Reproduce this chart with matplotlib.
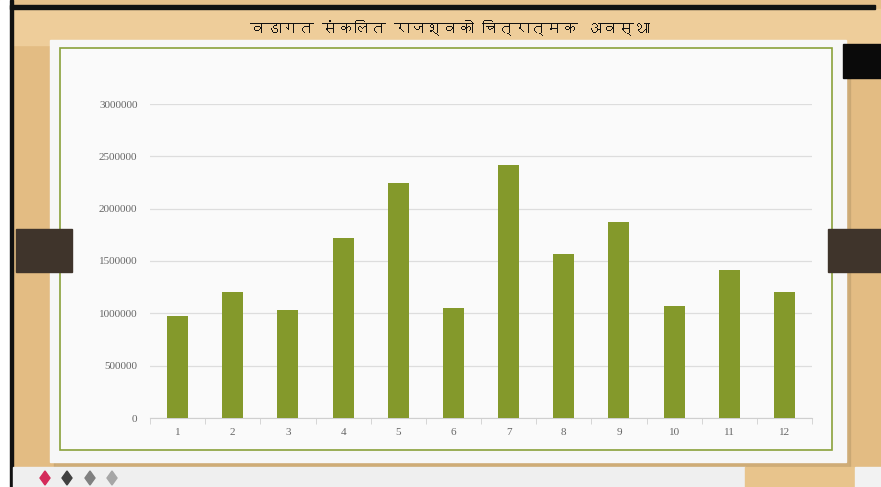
import matplotlib
matplotlib.use("Agg")
import matplotlib.pyplot as plt
from matplotlib import font_manager
from matplotlib.ft2font import FT2Font, LoadFlags
from matplotlib.patches import Rectangle, Polygon

# data
wards = ["1", "2", "3", "4", "5", "6", "7", "8", "9", "10", "11", "12"]
revenue = [975000, 1205000, 1032000, 1720000, 2245000, 1050000,
           2417000, 1567000, 1873000, 1070000, 1414000, 1205000]
y_ticks = [0, 500000, 1000000, 1500000, 2000000, 2500000, 3000000]
title = "वडागत संकलित राजश्वको चित्रात्मक अवस्था"


def pick_devanagari_font():
    # no text shaping in matplotlib, so prefer fonts whose vowel signs /
    # anusvara / virama take little horizontal room
    marks = [0x0902, 0x094D, 0x093F, 0x0947, 0x0940]
    best, best_score = None, None
    for path in font_manager.findSystemFonts():
        try:
            f = FT2Font(path)
            cmap = f.get_charmap()
            if 0x0935 not in cmap:
                continue
            score = 0.0
            for m in marks:
                if m in cmap:
                    g = f.load_char(m, flags=LoadFlags.NO_SCALE)
                    score += g.horiAdvance / f.units_per_EM
            if best_score is None or score < best_score:
                best, best_score = path, score
        except Exception:
            continue
    if best is None:
        return None
    return font_manager.FontProperties(fname=best).get_name()


deva = pick_devanagari_font()
title_family = [deva, "DejaVu Sans"] if deva else ["DejaVu Sans"]

W, H = 881, 487
fig = plt.figure(figsize=(W / 100, H / 100), dpi=100)
fig.patch.set_facecolor("#E6C08A")


def px_rect(x0, y0, x1, y1, **kw):
    # rectangle in pixel coords (top-left origin) -> figure coords
    fig.patches.append(Rectangle((x0 / W, 1 - y1 / H), (x1 - x0) / W, (y1 - y0) / H,
                                 transform=fig.transFigure, **kw))


# outer frame
px_rect(0, 0, 10, H, color="white", zorder=0)
px_rect(10, 0, 13, H, color="#111111", zorder=1)
px_rect(10, 5, 875, 9, color="#111111", zorder=1)
px_rect(13, 9, 881, 45, color="#EECD9A", zorder=0.5)
px_rect(13, 45, 881, 467, color="#E3BC83", zorder=0.4)

# white panel with shadow
px_rect(54, 45, 850, 467, color="#B89A6A", alpha=0.45, zorder=1)
px_rect(50, 40, 846, 462, color="#F7F7F7", zorder=2)
px_rect(60, 48, 832, 450, facecolor="#FAFAFA", edgecolor="#8AA13A", linewidth=1.2, zorder=3)

# side tabs and black block
px_rect(16, 229, 72, 272, color="#3F342B", zorder=4)
px_rect(828, 229, 881, 272, color="#3F342B", zorder=4)
px_rect(843, 44, 881, 78, color="#0A0A0A", zorder=4)

# bottom strip
px_rect(13, 467, 745, H, color="#EFEFEF", zorder=2)
px_rect(745, 467, 855, H, color="#E8C48C", zorder=2)
px_rect(855, 467, 881, H, color="#F2F2F2", zorder=2)
for cx, col in zip([45, 67, 90, 112], ["#D42A5A", "#404040", "#808080", "#A6A6A6"]):
    pts = [(cx / W, 1 - 471 / H), ((cx + 5) / W, 1 - 478 / H),
           (cx / W, 1 - 485 / H), ((cx - 5) / W, 1 - 478 / H)]
    fig.patches.append(Polygon(pts, closed=True, transform=fig.transFigure,
                               color=col, zorder=5))

title_txt = fig.text(450 / W, 1 - 28 / H, title, ha="center", va="center", fontsize=17,
                     fontweight="bold", color="#111111", family=title_family, zorder=6)
# shrink the title until it fits the band like the original
renderer = fig.canvas.get_renderer()
tw = title_txt.get_window_extent(renderer).width
if tw > 400:
    title_txt.set_fontsize(17 * 400 / tw)

# chart
ax = fig.add_axes([150 / W, 1 - 418 / H, (812 - 150) / W, (418 - 104) / H], zorder=7)
ax.patch.set_alpha(0)
x = range(len(wards))
ax.bar(x, revenue, width=0.38, color="#84992B", zorder=3)
ax.set_xlim(-0.5, len(wards) - 0.5)
ax.set_ylim(0, 3000000)
ax.set_yticks(y_ticks)
ax.set_yticklabels([str(v) for v in y_ticks])
ax.set_xticks(list(x))
ax.set_xticklabels(wards)
ax.set_xticks([i + 0.5 for i in range(-1, len(wards))], minor=True)
ax.grid(axis="y", color="#DDDDDD", linewidth=0.9, zorder=0)
for side in ["top", "right", "left"]:
    ax.spines[side].set_visible(False)
ax.spines["bottom"].set_color("#CFCFCF")
ax.tick_params(axis="y", length=0, pad=9, labelsize=8, labelcolor="#666666")
ax.tick_params(axis="x", which="major", length=0, pad=7, labelsize=8, labelcolor="#666666")
ax.tick_params(axis="x", which="minor", length=4, color="#CFCFCF")
for lbl in ax.get_xticklabels() + ax.get_yticklabels():
    lbl.set_fontfamily("Liberation Serif")

fig.savefig("out.png", dpi=100, facecolor=fig.get_facecolor())
